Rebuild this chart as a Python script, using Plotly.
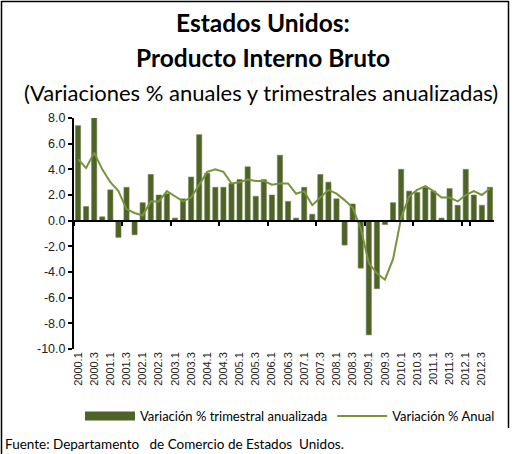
import plotly.graph_objects as go

categories = [f"{y}.{q}" for y in range(2000, 2013) for q in range(1, 5)]

quarterly_annualized = [
    7.4, 1.1, 8.0, 0.3, 2.4, -1.3, 2.6, -1.1, 1.4, 3.6,
    2.0, 2.1, 0.2, 1.7, 3.4, 6.7, 3.7, 2.6, 2.6, 2.9,
    3.2, 4.2, 1.9, 3.2, 2.0, 5.1, 1.5, 0.2, 2.6, 0.5,
    3.6, 3.0, 1.7, -1.9, 1.3, -3.7, -8.9, -5.3, -0.3, 1.4,
    4.0, 2.3, 2.2, 2.6, 2.3, 0.2, 2.5, 1.2, 4.0, 2.0,
    1.2, 2.6,
]

annual = [
    4.8, 4.1, 5.3, 4.0, 3.0, 2.3, 0.9, 0.6, 0.4, 1.5,
    1.5, 2.3, 1.9, 1.5, 1.8, 2.8, 3.8, 4.0, 3.8, 2.9,
    3.0, 3.2, 3.1, 3.1, 2.8, 2.9, 2.9, 2.1, 2.3, 1.2,
    1.8, 2.4, 2.1, 1.6, 1.0, -0.6, -3.3, -4.1, -4.6, -3.0,
    0.2, 1.9, 2.4, 2.7, 2.3, 1.8, 1.8, 1.5, 2.0, 2.3,
    2.0, 2.5,
]

y_ticks = [-10, -8, -6, -4, -2, 0, 2, 4, 6, 8]
y_tick_labels = ["-10.0", "-8.0", "-6.0", "-4.0", "-2.0", "0.0", "2.0", "4.0", "6.0", "8.0"]

title_lines = ["Estados Unidos:", "Producto Interno Bruto"]
subtitle = "(Variaciones % anuales y trimestrales anualizadas)"
source = "Fuente: Departamento&nbsp;&nbsp; de Comercio de Estados&nbsp; Unidos."

BAR_COLOR = "#4F6228"
LINE_COLOR = "#77933C"

W, H = 514, 454
L, R, T, B = 74, 20, 118, 105
pw, ph = W - L - R, H - T - B

def px(x):
    return (x - L) / pw

def py(y):
    return (H - B - y) / ph

fig = go.Figure()
fig.add_trace(go.Bar(
    x=categories, y=quarterly_annualized,
    name="Variación % trimestral anualizada", showlegend=False,
    legendgroup="q",
    marker=dict(color=BAR_COLOR, line=dict(color="#6E8048", width=0.6)),
))
# legend proxy: wide rectangle swatch like the original
fig.add_trace(go.Scatter(
    x=[None], y=[None], mode="lines", legendgroup="q",
    name="Variación % trimestral anualizada",
    line=dict(color=BAR_COLOR, width=9),
))
fig.add_trace(go.Scatter(
    x=categories, y=annual, mode="lines",
    name="Variación % Anual",
    line=dict(color=LINE_COLOR, width=2),
))
# invisible trace to carry the zero-crossing axis with tick marks
fig.add_trace(go.Scatter(
    x=categories, y=[None] * len(categories), xaxis="x2",
    showlegend=False, hoverinfo="skip", mode="lines",
))

rng = [-0.5, len(categories) - 0.5]
fig.update_layout(
    width=W, height=H,
    margin=dict(l=L, r=R, t=T, b=B, pad=0),
    paper_bgcolor="white", plot_bgcolor="white",
    bargap=0.36,
    font=dict(family="Lato, Arial", color="#000"),
    xaxis=dict(
        type="category", categoryorder="array", categoryarray=categories,
        range=rng, tickmode="array", tickvals=categories[::2], ticktext=categories[::2],
        tickangle=-90, ticks="", showline=False, showgrid=False, zeroline=False,
        tickfont=dict(family="Liberation Sans, Arial", size=11, color="#222"),
    ),
    xaxis2=dict(
        type="category", categoryorder="array", categoryarray=categories,
        range=rng, overlaying="x", anchor="free", position=10 / 18, side="bottom",
        tickmode="array", tickvals=categories[::6], tickson="boundaries",
        ticks="outside", ticklen=4, tickwidth=1.5, tickcolor="#000",
        showticklabels=False, showline=True, linecolor="#000", linewidth=2,
        showgrid=False, zeroline=False,
    ),
    yaxis=dict(
        range=[-10, 8], tickmode="array", tickvals=y_ticks, ticktext=y_tick_labels,
        ticks="outside", ticklen=4, tickwidth=1.5, tickcolor="#000",
        showline=True, linecolor="#000", linewidth=2, showgrid=False, zeroline=False,
        tickfont=dict(family="Liberation Sans, Arial", size=12.5, color="#222"),
    ),
    legend=dict(
        orientation="h", x=px(290), xanchor="center", y=py(416), yanchor="middle",
        font=dict(family="Lato, Arial", size=13), bgcolor="rgba(0,0,0,0)",
        itemwidth=50,
    ),
    showlegend=True,
)

annotations = [
    dict(text=f"<b>{title_lines[0]}</b>", x=px(263), y=py(22), font=dict(size=24.5)),
    dict(text=f"<b>{title_lines[1]}</b>", x=px(263), y=py(58), font=dict(size=24.5)),
    dict(text=subtitle, x=px(261), y=py(92), font=dict(size=22)),
]
for a in annotations:
    fig.add_annotation(xref="paper", yref="paper", xanchor="center", yanchor="middle",
                       showarrow=False, **a)
fig.add_annotation(text=source, xref="paper", yref="paper", x=px(3), y=py(444),
                   xanchor="left", yanchor="middle", showarrow=False,
                   font=dict(family="Lato, Arial", size=13.5))

# frame
line = dict(color="#000", width=1.5)
fig.add_shape(type="line", xref="paper", yref="paper", x0=px(1.5), x1=px(1.5), y0=py(1), y1=py(454), line=line)
fig.add_shape(type="line", xref="paper", yref="paper", x0=px(1.5), x1=px(508.5), y0=py(1.5), y1=py(1.5), line=line)
fig.add_shape(type="line", xref="paper", yref="paper", x0=px(508.5), x1=px(508.5), y0=py(1), y1=py(428), line=line)

fig.write_html("out.html", config={"displayModeBar": False},
               post_script="document.body.style.margin='0';document.body.style.overflow='hidden';")
